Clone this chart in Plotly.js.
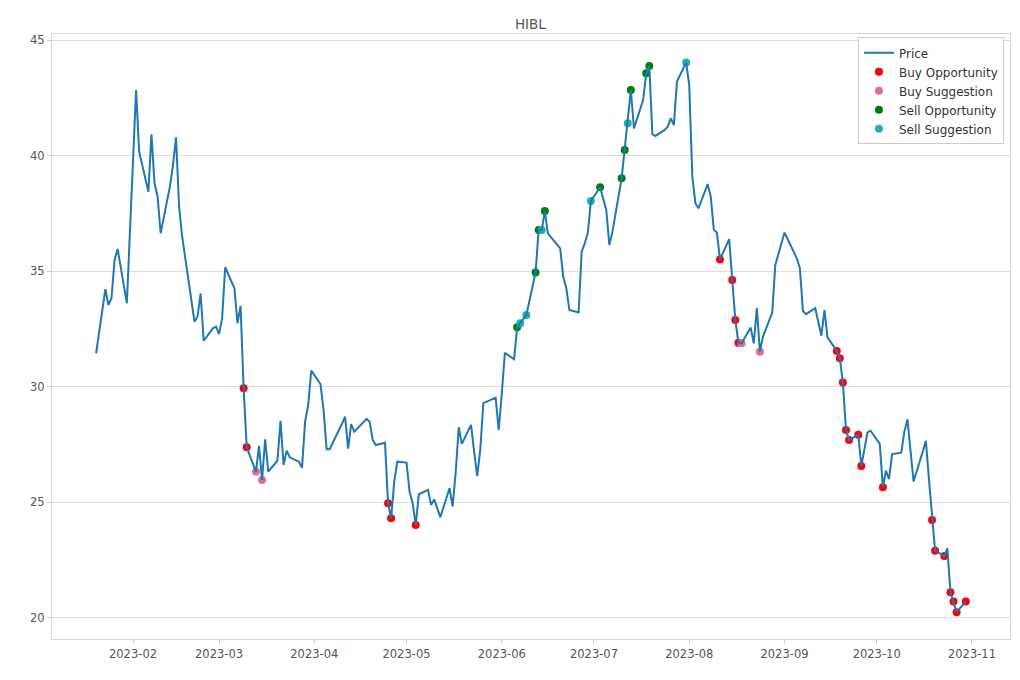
<!DOCTYPE html>
<html>
<head>
<meta charset="utf-8">
<script src="https://cdn.plot.ly/plotly-3.0.1.min.js"></script>
<style>
html,body{margin:0;padding:0;background:#fff;}
#chart{width:1020px;height:680px;}
</style>
</head>
<body>
<div id="chart"></div>
<script>
const dates = [
"2023-01-20","2023-01-23","2023-01-24","2023-01-25","2023-01-26","2023-01-27","2023-01-30","2023-01-31",
"2023-02-01","2023-02-02","2023-02-03","2023-02-06","2023-02-07","2023-02-08","2023-02-09","2023-02-10",
"2023-02-13","2023-02-14","2023-02-15","2023-02-16","2023-02-17","2023-02-21","2023-02-22","2023-02-23",
"2023-02-24","2023-02-27","2023-02-28","2023-03-01","2023-03-02","2023-03-03","2023-03-06","2023-03-07",
"2023-03-08","2023-03-09","2023-03-10","2023-03-13","2023-03-14","2023-03-15","2023-03-16","2023-03-17",
"2023-03-20","2023-03-21","2023-03-22","2023-03-23","2023-03-24","2023-03-27","2023-03-28","2023-03-29",
"2023-03-30","2023-03-31","2023-04-03","2023-04-04","2023-04-05","2023-04-06","2023-04-10","2023-04-11",
"2023-04-12","2023-04-13","2023-04-14","2023-04-17","2023-04-18","2023-04-19","2023-04-20","2023-04-21",
"2023-04-24","2023-04-25","2023-04-26","2023-04-27","2023-04-28","2023-05-01","2023-05-02","2023-05-03",
"2023-05-04","2023-05-05","2023-05-08","2023-05-09","2023-05-10","2023-05-11","2023-05-12","2023-05-15",
"2023-05-16","2023-05-17","2023-05-18","2023-05-19","2023-05-22","2023-05-23","2023-05-24","2023-05-25",
"2023-05-26","2023-05-30","2023-05-31","2023-06-01","2023-06-02","2023-06-05","2023-06-06","2023-06-07",
"2023-06-08","2023-06-09","2023-06-12","2023-06-13","2023-06-14","2023-06-15","2023-06-16","2023-06-20",
"2023-06-21","2023-06-22","2023-06-23","2023-06-26","2023-06-27","2023-06-28","2023-06-29","2023-06-30",
"2023-07-03","2023-07-05","2023-07-06","2023-07-07","2023-07-10","2023-07-11","2023-07-12","2023-07-13",
"2023-07-14","2023-07-17","2023-07-18","2023-07-19","2023-07-20","2023-07-21","2023-07-24","2023-07-25",
"2023-07-26","2023-07-27","2023-07-28","2023-07-31","2023-08-01","2023-08-02","2023-08-03","2023-08-04",
"2023-08-07","2023-08-08","2023-08-09","2023-08-10","2023-08-11","2023-08-14","2023-08-15","2023-08-16",
"2023-08-17","2023-08-18","2023-08-21","2023-08-22","2023-08-23","2023-08-24","2023-08-25","2023-08-28",
"2023-08-29","2023-08-30","2023-08-31","2023-09-01","2023-09-05","2023-09-06","2023-09-07","2023-09-08",
"2023-09-11","2023-09-12","2023-09-13","2023-09-14","2023-09-15","2023-09-18","2023-09-19","2023-09-20",
"2023-09-21","2023-09-22","2023-09-25","2023-09-26","2023-09-27","2023-09-28","2023-09-29","2023-10-02",
"2023-10-03","2023-10-04","2023-10-05","2023-10-06","2023-10-09","2023-10-10","2023-10-11","2023-10-12",
"2023-10-13","2023-10-16","2023-10-17","2023-10-18","2023-10-19","2023-10-20","2023-10-23","2023-10-24",
"2023-10-25","2023-10-26","2023-10-27","2023-10-30"
];
const prices = [
31.45,34.22,33.54,33.83,35.48,35.96,33.61,36.6,
39.7,42.84,40.17,38.44,40.92,38.80,38.22,36.64,
38.66,39.59,40.79,37.79,36.49,32.82,33.03,34.04,
31.99,32.53,32.60,32.28,32.96,35.17,34.26,32.75,
33.50,29.94,27.38,26.33,27.44,25.97,27.73,26.33,
26.80,28.53,26.62,27.24,26.95,26.76,26.50,28.49,
29.21,30.70,30.12,29.00,27.30,27.30,28.40,28.71,
27.32,28.39,28.06,28.47,28.61,28.49,27.70,27.48,
27.58,24.96,24.31,25.9,26.76,26.72,25.46,24.96,
24.02,25.35,25.54,24.89,25.13,24.75,24.36,25.61,
24.82,26.3,28.25,27.53,28.35,27.2,26.14,27.27,
29.29,29.53,28.13,29.7,31.47,31.19,32.57,32.75,
32.95,33.11,34.94,36.78,36.78,37.60,36.64,35.99,
34.76,34.26,33.32,33.21,35.84,36.2,36.67,38.04,
38.63,37.65,36.13,36.7,39.02,40.24,41.40,42.84,
41.18,42.40,43.56,43.88,40.93,40.85,41.11,41.25,
41.61,41.32,43.20,44.03,43.05,39.09,37.94,37.72,
38.77,38.22,36.78,36.67,35.51,36.39,34.62,32.89,
31.91,31.88,32.56,31.88,33.40,31.52,32.17,33.21,
35.27,35.75,36.2,36.67,35.56,35.13,33.28,33.14,
33.40,32.8,32.21,33.32,32.14,31.55,31.23,30.18,
28.13,27.70,27.92,26.57,27.3,28.03,28.10,27.53,
25.65,26.37,26.00,27.09,27.15,28.06,28.59,27.2,
25.90,27.2,27.66,26.0,24.24,22.91,22.68,23.01,
21.11,20.71,20.25,20.71
];

const buyOppDates = ["2023-03-09","2023-03-10","2023-04-25","2023-04-26","2023-05-04","2023-08-11","2023-08-15","2023-08-16",
"2023-08-17","2023-09-18","2023-09-19","2023-09-20","2023-09-21","2023-09-22","2023-09-25","2023-09-26",
"2023-10-03","2023-10-19","2023-10-20","2023-10-23","2023-10-25","2023-10-26","2023-10-27","2023-10-30"];
const buyOppValues = [29.94,27.38,24.96,24.31,24.02,35.51,34.62,32.89,
31.91,31.55,31.23,30.18,28.13,27.70,27.92,26.57,
25.65,24.24,22.91,22.68,21.11,20.71,20.25,20.71];

const buySugDates = ["2023-03-13","2023-03-15","2023-08-18","2023-08-24"];
const buySugValues = [26.33,25.97,31.88,31.52];

const sellOppDates = ["2023-06-06","2023-06-12","2023-06-13","2023-06-15","2023-07-03","2023-07-10","2023-07-11","2023-07-13","2023-07-18","2023-07-19"];
const sellOppValues = [32.57,34.94,36.78,37.60,38.63,39.02,40.24,42.84,43.56,43.88];

const sellSugDates = ["2023-06-07","2023-06-09","2023-06-14","2023-06-30","2023-07-12","2023-07-31"];
const sellSugValues = [32.75,33.11,36.78,38.04,41.40,44.03];

const yTicks = [20,25,30,35,40,45];
const title = "HIBL";

const mk = (name, x, y, color, rank) => ({
  type:'scatter', mode:'markers', name:name, x:x, y:y,
  marker:{color:color, size:8, line:{width:0}},
  legendrank:rank, hoverinfo:'skip'
});

const traces = [
  mk('Buy Opportunity', buyOppDates, buyOppValues, '#ff0000', 2),
  mk('Buy Suggestion', buySugDates, buySugValues, '#db7093', 3),
  mk('Sell Opportunity', sellOppDates, sellOppValues, '#008000', 4),
  mk('Sell Suggestion', sellSugDates, sellSugValues, '#20b2aa', 5),
  {type:'scatter', mode:'lines', name:'Price', x:dates, y:prices,
   line:{color:'#1f77b4', width:2}, legendrank:1, hoverinfo:'skip'}
];

const layout = {
  width:1020, height:680,
  margin:{l:52, r:10, t:34, b:41},
  paper_bgcolor:'#ffffff', plot_bgcolor:'#ffffff',
  font:{family:'DejaVu Sans, sans-serif', size:11.5, color:'#555555'},
  title:{text:title, x:0.52, xref:'container', y:0.965, yref:'container', yanchor:'middle', xanchor:'center',
         font:{family:'DejaVu Sans, sans-serif', size:13.5, color:'#555555'}},
  showlegend:true,
  legend:{x:0.9937, xanchor:'right', y:0.9945, yanchor:'top', bgcolor:'#ffffff',
          bordercolor:'#cccccc', borderwidth:1, font:{size:12, color:'#333333'},
          traceorder:'normal'},
  xaxis:{type:'date', range:['2023-01-05 15:20','2023-11-13 09:00'],
         tick0:'2023-01-01', dtick:'M1', tickformat:'%Y-%m',
         showgrid:false, zeroline:false, showline:true, mirror:true, linecolor:'#d6d6d6', linewidth:1,
         ticks:'outside', ticklen:4, tickcolor:'#cccccc', tickfont:{size:11.5, color:'#555555'}},
  yaxis:{range:[19.09,45.26], tickvals:yTicks, ticktext:yTicks.map(String),
         showgrid:true, gridcolor:'#dddddd', gridwidth:1, zeroline:false,
         showline:true, mirror:true, linecolor:'#d6d6d6', linewidth:1,
         ticks:'outside', ticklen:4, tickcolor:'#cccccc', tickfont:{size:11.5, color:'#555555'}}
};

Plotly.newPlot('chart', traces, layout, {staticPlot:true, displayModeBar:false});
</script>
</body>
</html>
